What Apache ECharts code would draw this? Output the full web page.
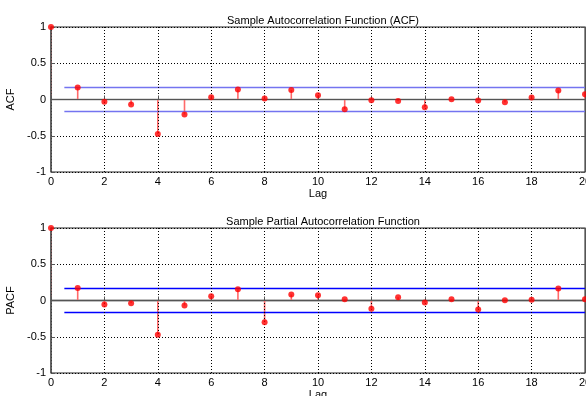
<!DOCTYPE html>
<html>
<head>
<meta charset="utf-8">
<script src="https://cdn.jsdelivr.net/npm/echarts@6/dist/echarts.min.js"></script>
<style>
  html, body { margin: 0; padding: 0; background: #fff; }
  #chart { width: 586px; height: 396px; }
</style>
</head>
<body>
<div id="chart"></div>
<script>
// lags 0..20
const lags = [0, 1, 2, 3, 4, 5, 6, 7, 8, 9, 10, 11, 12, 13, 14, 15, 16, 17, 18, 19, 20];
const acfValues = [1, 0.167, -0.032, -0.07, -0.477, -0.208, 0.032, 0.139, 0.014, 0.132,
  0.06, -0.134, -0.01, -0.02, -0.106, 0.005, -0.014, -0.037, 0.028, 0.125, 0.074];
const pacfValues = [1, 0.172, -0.055, -0.037, -0.474, -0.069, 0.06, 0.156, -0.299, 0.083,
  0.074, 0.018, -0.115, 0.046, -0.028, 0.018, -0.124, 0.005, 0.009, 0.166, 0.018];
const bound = 0.167;      // confidence bound
const boundFrom = 0.5;    // bounds start at lag 0.5
const yTicks = [-1, -0.5, 0, 0.5, 1];

const font = "Liberation Sans, Arial, sans-serif";
const chart = echarts.init(document.getElementById("chart"));

const pairs = vals => lags.map((l, i) => [l, vals[i]]);

function stemRender(params, api) {
  const x = api.value(0);
  const p0 = api.coord([x, 0]);
  const p1 = api.coord([x, api.value(1)]);
  return {
    type: "line",
    shape: { x1: p0[0], y1: p0[1], x2: p1[0], y2: p1[1] },
    style: { stroke: "#ff6a6a", lineWidth: 1.6 },
  };
}

function xAxisFor(idx) {
  return {
    gridIndex: idx,
    type: "value",
    min: 0,
    max: 20,
    interval: 2,
    name: "Lag",
    nameLocation: "middle",
    nameGap: 16,
    nameTextStyle: { fontFamily: font, fontSize: 11, color: "#000" },
    axisLine: { lineStyle: { color: "#555" } },
    axisTick: { inside: true, length: 4, lineStyle: { color: "#555" } },
    axisLabel: { fontFamily: font, fontSize: 11, color: "#000", margin: 4 },
    splitLine: { show: true, lineStyle: { color: "#000", type: [1, 2], width: 1 } },
    z: 5,
  };
}

function yAxisFor(idx, name) {
  return {
    gridIndex: idx,
    type: "value",
    min: yTicks[0],
    max: yTicks[yTicks.length - 1],
    interval: 0.5,
    name: name,
    nameLocation: "middle",
    nameGap: 28,
    nameTextStyle: { fontFamily: font, fontSize: 11, color: "#000" },
    axisLine: { lineStyle: { color: "#555", width: 1.5 } },
    axisTick: { inside: true, length: 4, lineStyle: { color: "#555" } },
    axisLabel: { fontFamily: font, fontSize: 11, color: "#000", margin: 5 },
    splitLine: { show: true, lineStyle: { color: "#000", type: [1, 2], width: 1 } },
    z: 5,
  };
}

function rightAxisFor(idx) {
  return {
    gridIndex: idx,
    type: "value",
    position: "right",
    min: -1,
    max: 1,
    interval: 0.5,
    axisLine: { show: true, lineStyle: { color: "#555" } },
    axisTick: { inside: true, length: 4, lineStyle: { color: "#555" } },
    axisLabel: { show: false },
    splitLine: { show: false },
    z: 5,
  };
}

function seriesFor(idx, vals, blue, zeroColor) {
  return [
    {
      type: "line",
      xAxisIndex: idx,
      yAxisIndex: idx * 2,
      data: [[0, 0], [20, 0]],
      symbol: "none",
      lineStyle: { color: zeroColor, width: 1.5 },
      silent: true,
      z: 1,
    },
    {
      type: "custom",
      xAxisIndex: idx,
      yAxisIndex: idx * 2,
      data: pairs(vals),
      renderItem: stemRender,
      clip: true,
      z: 2,
    },
    {
      type: "line",
      xAxisIndex: idx,
      yAxisIndex: idx * 2,
      data: [[boundFrom, bound], [20, bound]],
      symbol: "none",
      lineStyle: { color: blue, width: 1.5 },
      z: 3,
    },
    {
      type: "line",
      xAxisIndex: idx,
      yAxisIndex: idx * 2,
      data: [[boundFrom, -bound], [20, -bound]],
      symbol: "none",
      lineStyle: { color: blue, width: 1.5 },
      z: 3,
    },
    {
      type: "scatter",
      xAxisIndex: idx,
      yAxisIndex: idx * 2,
      data: pairs(vals),
      symbol: "circle",
      symbolSize: 6,
      itemStyle: { color: "#ff0000" },
      clip: false,
      z: 6,
    },
  ];
}

const option = {
  animation: false,
  backgroundColor: "#fff",
  title: [
    {
      text: "Sample Autocorrelation Function (ACF)",
      left: 318,
      top: 10,
      textAlign: "center",
      textStyle: { fontFamily: font, fontSize: 11, fontWeight: "normal", color: "#000" },
    },
    {
      text: "Sample Partial Autocorrelation Function",
      left: 318,
      top: 211,
      textAlign: "center",
      textStyle: { fontFamily: font, fontSize: 11, fontWeight: "normal", color: "#000" },
    },
  ],
  grid: [
    { left: 51, top: 27, width: 534, height: 145, outerBoundsMode: "none", show: true, borderColor: "#222", borderWidth: 1 },
    { left: 51, top: 228, width: 534, height: 145, outerBoundsMode: "none", show: true, borderColor: "#222", borderWidth: 1 },
  ],
  xAxis: [xAxisFor(0), xAxisFor(1)],
  yAxis: [yAxisFor(0, "ACF"), rightAxisFor(0), yAxisFor(1, "PACF"), rightAxisFor(1)],
  series: [
    ...seriesFor(0, acfValues, "#7474f0", "#777"),
    ...seriesFor(1, pacfValues, "#0000ff", "#000"),
  ],
};

chart.setOption(option);
</script>
</body>
</html>
